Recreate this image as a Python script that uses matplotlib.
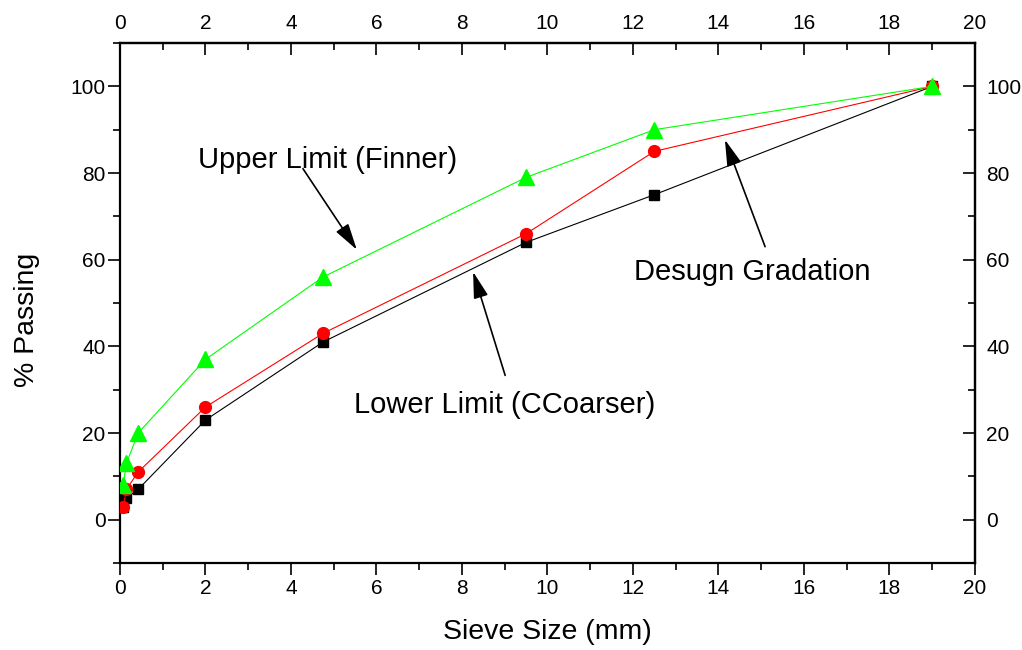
import matplotlib
matplotlib.use("Agg")
import matplotlib.pyplot as plt
from matplotlib.ticker import MultipleLocator

plt.rcParams['font.family'] = ['Liberation Sans', 'DejaVu Sans']

sieve_upper = [0.075, 0.15, 0.425, 2, 4.75, 9.5, 12.5, 19]
upper_limit = [8, 13, 20, 37, 56, 79, 90, 100]
sieve_design = [0.075, 0.15, 0.425, 2, 4.75, 9.5, 12.5, 19]
design_grad = [3, 7, 11, 26, 43, 66, 85, 100]
sieve_lower = [0.075, 0.15, 0.425, 2, 4.75, 9.5, 12.5, 19]
lower_limit = [3, 5, 7, 23, 41, 64, 75, 100]
x_ticks = [0, 2, 4, 6, 8, 10, 12, 14, 16, 18, 20]
y_ticks = [0, 20, 40, 60, 80, 100]

fig = plt.figure(figsize=(10.22, 6.5), dpi=100)
ax = fig.add_axes([0.1174, 0.1338, 0.8366, 0.80])

ax.plot(sieve_lower, lower_limit, color='black', lw=0.8, marker='s', ms=7.5, zorder=3)
ax.plot(sieve_design, design_grad, color='#ff0000', lw=0.8, marker='o', ms=8.5, zorder=4)
ax.plot(sieve_upper, upper_limit, color='#00ff00', lw=0.8, marker='^', ms=11, zorder=5)

ax.set_xlim(0, 20)
ax.set_ylim(-10, 110)
ax.set_xticks(x_ticks)
ax.xaxis.set_minor_locator(MultipleLocator(1))
ax.set_yticks(y_ticks)
ax.yaxis.set_minor_locator(MultipleLocator(10))

for s in ax.spines.values():
    s.set_linewidth(1.6)

ax.tick_params(which='major', length=8.5, width=1.2, labelsize=15)
ax.tick_params(which='minor', length=5, width=1.2)
ax.tick_params(axis='x', which='both', direction='out', bottom=True, top=False, pad=3)
ax.tick_params(axis='y', which='both', direction='out', left=True, right=False, pad=2)

axt = ax.secondary_xaxis('top')
axt.set_xticks(x_ticks)
axt.xaxis.set_minor_locator(MultipleLocator(1))
axt.tick_params(which='major', direction='in', length=8.5, width=1.2, labelsize=15, pad=7)
axt.tick_params(which='minor', direction='in', length=5, width=1.2)
axt.spines['top'].set_linewidth(1.6)

axr = ax.secondary_yaxis('right')
axr.set_yticks(y_ticks)
axr.set_yticks([-10, 10, 30, 50, 70, 90, 110], minor=True)
axr.tick_params(which='major', direction='in', length=8.5, width=1.2, labelsize=15, pad=8)
axr.tick_params(which='minor', direction='in', length=5, width=1.2)
axr.spines['right'].set_linewidth(1.6)

ax.set_xlabel('Sieve Size (mm)', fontsize=20.5)
ax.set_ylabel('% Passing', fontsize=20.5)
ax.xaxis.set_label_coords(0.5, -0.108)
ax.yaxis.set_label_coords(-0.094, 0.467)

arrow = dict(arrowstyle='-|>,head_length=0.9,head_width=0.25', mutation_scale=18,
             lw=1.2, color='black', shrinkA=0, shrinkB=0)
ax.text(1.82, 83.1, 'Upper Limit (Finner)', fontsize=21, ha='left', va='center')
ax.annotate('', xy=(5.54, 62.3), xytext=(4.28, 81.0), arrowprops=arrow)
ax.text(12.02, 57.2, 'Desugn Gradation', fontsize=21, ha='left', va='center')
ax.annotate('', xy=(14.15, 87.7), xytext=(15.09, 63.0), arrowprops=arrow)
ax.text(5.47, 26.4, 'Lower Limit (CCoarser)', fontsize=21, ha='left', va='center')
ax.annotate('', xy=(8.26, 57.2), xytext=(9.01, 33.3), arrowprops=arrow)

fig.savefig('out.png', dpi=100)
